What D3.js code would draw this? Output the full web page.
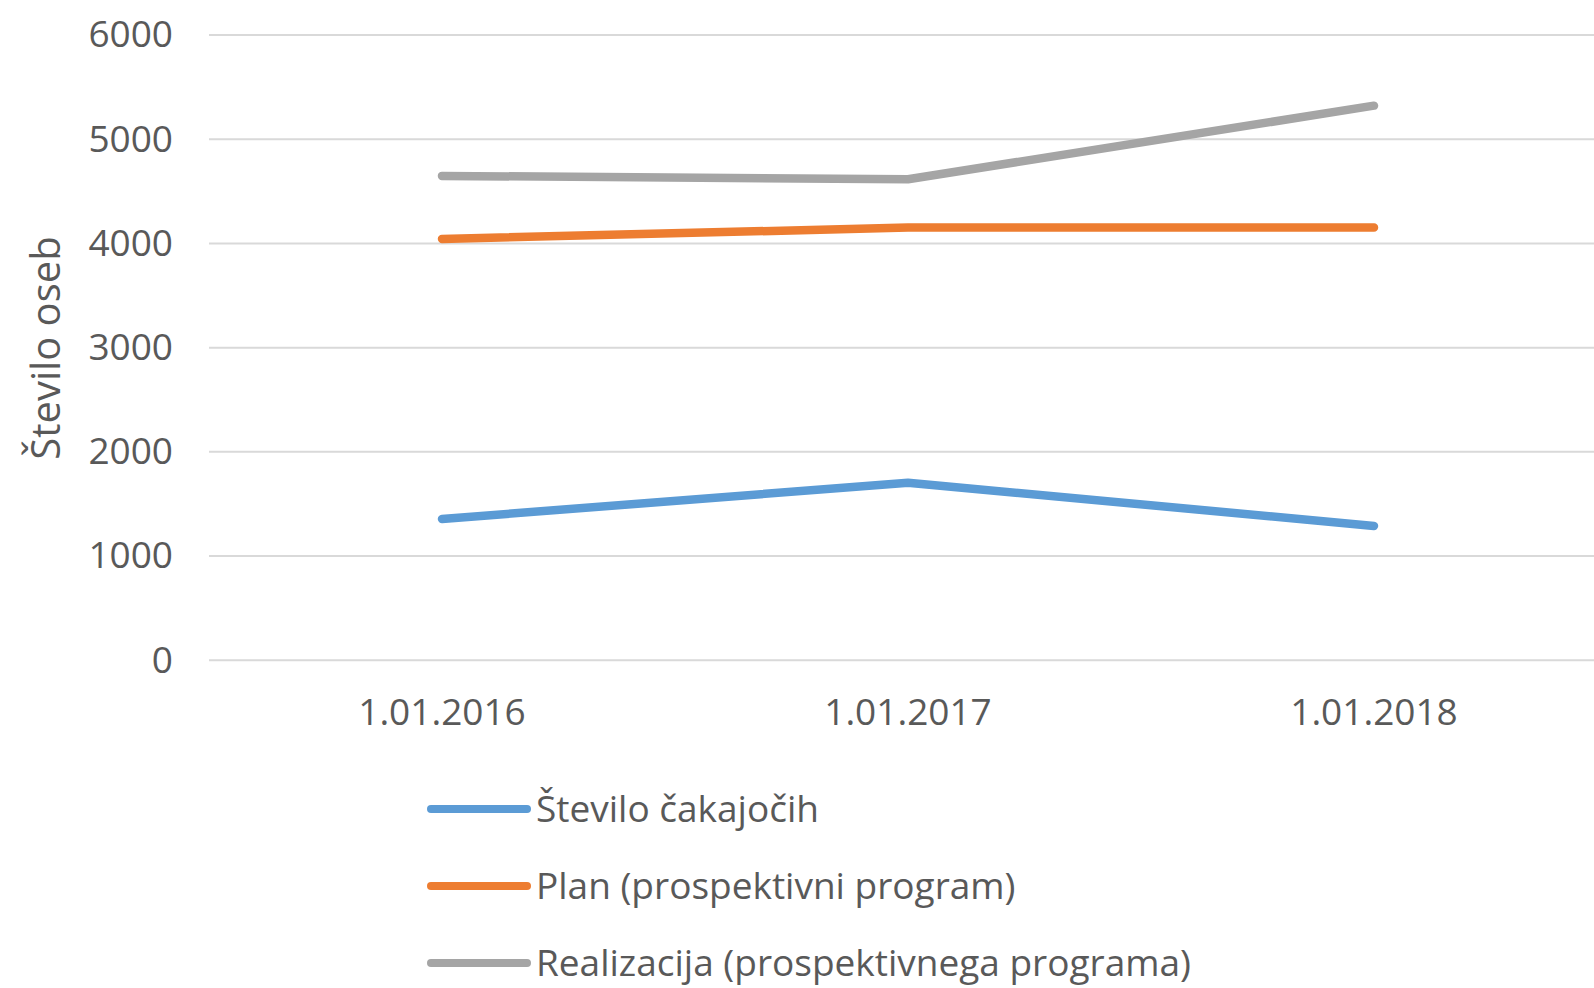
<!DOCTYPE html>
<html>
<head>
<meta charset="utf-8">
<script src="https://cdn.jsdelivr.net/npm/d3@7"></script>
<style>
  html, body { margin: 0; padding: 0; background: #fff; overflow: hidden; }
  text { font-family: "Open Sans", sans-serif; fill: #595959; }
</style>
</head>
<body>
<svg id="chart" width="1594" height="988"></svg>
<script>
// data
const categories = ["1.01.2016", "1.01.2017", "1.01.2018"];
const cakajoci = [1356, 1704, 1289];
const plan = [4043, 4152, 4152];
const realizacija = [4648, 4616, 5322];
const yTicks = [0, 1000, 2000, 3000, 4000, 5000, 6000];
const seriesNames = ["Število čakajočih", "Plan (prospektivni program)", "Realizacija (prospektivnega programa)"];
const seriesColors = ["#5b9bd5", "#ed7d31", "#a5a5a5"];

const series = [cakajoci, plan, realizacija].map((vals, k) => ({
  name: seriesNames[k],
  color: seriesColors[k],
  values: vals.map((v, i) => ({x: categories[i], y: v}))
}));

const svg = d3.select("#chart");
const margin = {left: 209, top: 35, bottom: 660};

// plot area runs past the right edge, like the cropped original
const xScale = d3.scaleBand().domain(categories).range([margin.left, 1607]);
const yScale = d3.scaleLinear().domain([0, 6000]).range([660.3, 35]);

// gridlines
svg.append("g")
  .selectAll("line")
  .data(yTicks)
  .join("line")
    .attr("x1", margin.left)
    .attr("x2", 1607)
    .attr("y1", d => yScale(d))
    .attr("y2", d => yScale(d))
    .attr("stroke", "#d9d9d9")
    .attr("stroke-width", 2);

// y axis
const yAxis = svg.append("g")
  .attr("transform", `translate(${margin.left},0)`)
  .call(d3.axisLeft(yScale).tickValues(yTicks).tickSize(0).tickPadding(36).tickFormat(d3.format("d")));
yAxis.select(".domain").remove();
yAxis.selectAll("text")
  .attr("font-size", 37)
  .attr("fill", "#595959")
  .style("font-family", "'Open Sans', sans-serif");

// x axis
const xAxis = svg.append("g")
  .attr("transform", `translate(0,${yScale(0)})`)
  .call(d3.axisBottom(xScale).tickSize(0).tickPadding(38));
xAxis.select(".domain").remove();
xAxis.selectAll("text")
  .attr("font-size", 37)
  .attr("fill", "#595959")
  .style("font-family", "'Open Sans', sans-serif");

// axis title
svg.append("text")
  .attr("transform", "translate(60,348) rotate(-90)")
  .attr("text-anchor", "middle")
  .attr("font-size", 40)
  .text("Število oseb");

// lines
const line = d3.line()
  .x(d => xScale(d.x) + xScale.bandwidth() / 2)
  .y(d => yScale(d.y));

svg.append("g")
  .selectAll("path")
  .data(series)
  .join("path")
    .attr("d", d => line(d.values))
    .attr("fill", "none")
    .attr("stroke", d => d.color)
    .attr("stroke-width", 8.5)
    .attr("stroke-linecap", "round")
    .attr("stroke-linejoin", "round");

// legend
const legend = svg.append("g")
  .selectAll("g")
  .data(series)
  .join("g")
    .attr("transform", (d, i) => `translate(431,${809 + i * 77})`);

legend.append("line")
  .attr("x1", 0)
  .attr("x2", 96)
  .attr("stroke", d => d.color)
  .attr("stroke-width", 8)
  .attr("stroke-linecap", "round");

legend.append("text")
  .attr("x", 105)
  .attr("dy", "0.35em")
  .attr("font-size", 37)
  .text(d => d.name);
</script>
</body>
</html>
